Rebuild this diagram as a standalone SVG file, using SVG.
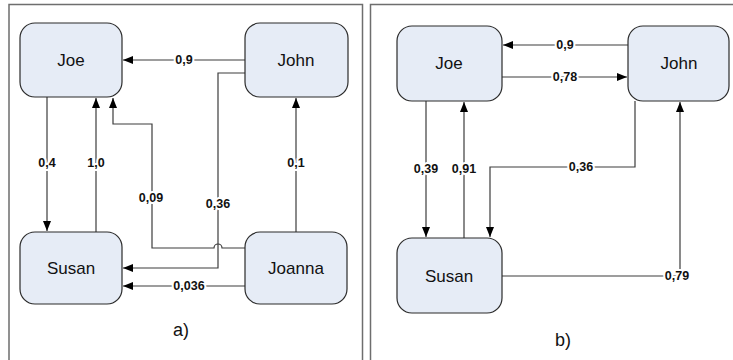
<svg xmlns="http://www.w3.org/2000/svg" width="733" height="360" viewBox="0 0 733 360">
<style>
.panel{fill:none;stroke:#6e6e6e;stroke-width:1.5}
.node rect{fill:#e6ecf6;stroke:#2b2b2b;stroke-width:1.2}
.node text{font-family:"Liberation Sans",Arial,sans-serif;font-size:17px;fill:#111;text-anchor:middle;dominant-baseline:central}
.edge{fill:none;stroke:#3c3c3c;stroke-width:1.2}
.arr{marker-end:url(#ah)}
.lbl{font-family:"Liberation Sans",Arial,sans-serif;font-size:12.5px;font-weight:bold;fill:#111;text-anchor:middle;dominant-baseline:central;stroke:#fff;stroke-width:4;paint-order:stroke}
.cap{font-family:"Liberation Sans",Arial,sans-serif;font-size:18px;fill:#111;text-anchor:middle}
</style>
<defs>
<marker id="ah" viewBox="0 0 10 8" refX="10" refY="4" markerWidth="10" markerHeight="8" markerUnits="userSpaceOnUse" orient="auto">
<path d="M0,0 L10,4 L0,8 Z" fill="#000"/>
</marker>
</defs>
<rect class="panel" x="9" y="4.5" width="353.5" height="362"/>
<rect class="panel" x="370.5" y="4.5" width="370" height="362"/>
<g id="connectors">
<path class="edge arr" d="M245,60 H123"/>
<path class="edge arr" d="M245,73 H218 V268 H123"/>
<path class="edge arr" d="M47,97 V231"/>
<path class="edge arr" d="M96,232 V98"/>
<path class="edge arr" d="M245,248 H222 A4,4 0 0 0 214,248 H152 V124 H113 V98"/>
<path class="edge arr" d="M296,232 V98"/>
<path class="edge arr" d="M245,286 H123"/>
<path class="edge arr" d="M628,45 H503"/>
<path class="edge arr" d="M502,77 H627"/>
<path class="edge arr" d="M426,101 V237"/>
<path class="edge arr" d="M464,238 V102"/>
<path class="edge arr" d="M635,101 V167 H490 V237"/>
<path class="edge arr" d="M502,276 H680 V102"/>
<text class="lbl" x="184" y="60">0,9</text>
<text class="lbl" x="218" y="204">0,36</text>
<text class="lbl" x="47" y="163">0,4</text>
<text class="lbl" x="96" y="163">1,0</text>
<text class="lbl" x="151" y="198">0,09</text>
<text class="lbl" x="296" y="163">0,1</text>
<text class="lbl" x="189" y="286">0,036</text>
<text class="lbl" x="565" y="45">0,9</text>
<text class="lbl" x="565" y="77">0,78</text>
<text class="lbl" x="426" y="169">0,39</text>
<text class="lbl" x="464" y="169">0,91</text>
<text class="lbl" x="581" y="167">0,36</text>
<text class="lbl" x="677" y="276">0,79</text>
</g>
<g id="a-joe" class="node"><rect x="20" y="23" width="102" height="74" rx="15"/><text x="71" y="60">Joe</text></g>
<g id="a-john" class="node"><rect x="245" y="23" width="103" height="74" rx="15"/><text x="296" y="60">John</text></g>
<g id="a-susan" class="node"><rect x="20" y="232" width="102" height="72" rx="15"/><text x="71" y="268">Susan</text></g>
<g id="a-joanna" class="node"><rect x="245" y="232" width="102" height="72" rx="15"/><text x="296" y="268">Joanna</text></g>
<g id="b-joe" class="node"><rect x="397" y="26" width="105" height="75" rx="15"/><text x="449" y="63">Joe</text></g>
<g id="b-john" class="node"><rect x="628" y="26" width="101" height="75" rx="15"/><text x="679" y="63">John</text></g>
<g id="b-susan" class="node"><rect x="397" y="238" width="105" height="75" rx="15"/><text x="449" y="276">Susan</text></g>
<text class="cap" x="181" y="336">a)</text>
<text class="cap" x="563" y="346">b)</text>
</svg>
